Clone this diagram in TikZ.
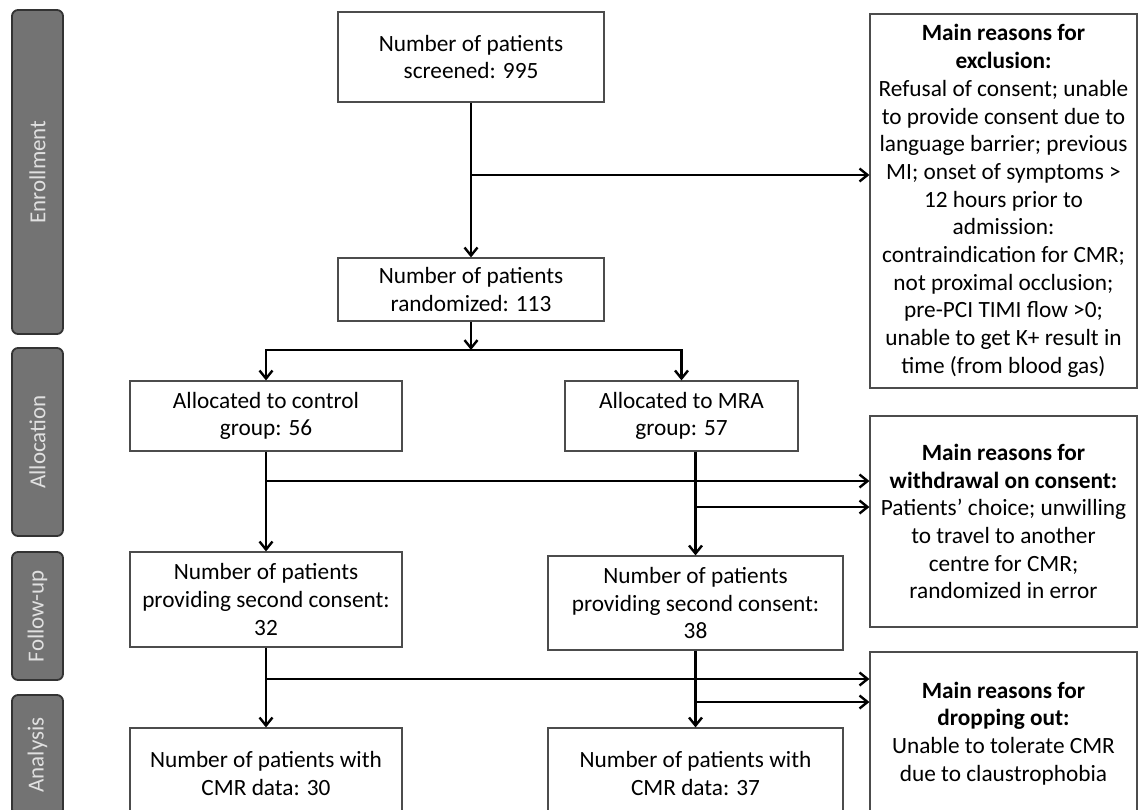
\documentclass[tikz,border=0pt]{standalone}
\usepackage{fontspec}
\setmainfont{Carlito}
\usetikzlibrary{arrows.meta}

\begin{document}
\begin{tikzpicture}[x=1pt, y=-1pt,
		box/.style={draw=black!70, line width=1.2pt, align=center, inner sep=0pt, font=\fontsize{23.3}{27.7}\selectfont},
		phase/.style={draw=black!80, fill=black!55, line width=1.8pt, rounded corners=6pt, rotate=90, inner sep=0pt,
			minimum height=51pt, text=black!12, font=\fontsize{23}{26}\selectfont},
		flow/.style={line width=2.4pt, -{Straight Barb[length=8pt,width=13pt]}}]
		\path[use as bounding box] (0,0) rectangle (1139,809);
		\clip (0,0) rectangle (1139,809);

		% phases
		\node[phase, minimum width=324pt] (enrol) at (37.5,172) {Enrollment};
		\node[phase, minimum width=188pt] (alloc) at (37.5,442) {Allocation};
		\node[phase, minimum width=128pt] (follow) at (37.5,616) {Follow-up};
		\node[phase, minimum width=120pt] (analysis) at (37.5,755) {Analysis};

		% main column
		\node[box, minimum width=266pt, minimum height=90pt] (screened) at (471,57) {Number of patients\\screened: 995};
		\node[box, minimum width=266pt, minimum height=63pt] (randomized) at (471,289.5) {Number of patients\\randomized: 113};
		\node[box, minimum width=272pt, minimum height=70pt] (control) at (266,416) {Allocated to control\\group: 56};
		\node[box, minimum width=233pt, minimum height=70pt] (mra) at (681.5,416) {Allocated to MRA\\group: 57};
		\node[box, minimum width=272pt, minimum height=95pt] (consentC) at (266,599.5) {Number of patients\\providing second consent:\\32};
		\node[box, minimum width=295pt, minimum height=94pt] (consentM) at (695.5,603) {Number of patients\\providing second consent:\\38};
		\node[box, minimum width=272pt, minimum height=91pt] (cmrC) at (266,773.5) {Number of patients with\\CMR data: 30};
		\node[box, minimum width=295pt, minimum height=91pt] (cmrM) at (695.5,773.5) {Number of patients with\\CMR data: 37};

		% reasons
		\node[box, minimum width=267pt, minimum height=374pt] (exclusion) at (1003.5,201) {\textbf{Main reasons for}\\\textbf{exclusion:}\\Refusal of consent; unable\\to provide consent due to\\language barrier; previous\\MI; onset of symptoms >\\12 hours prior to\\admission:\\contraindication for CMR;\\not proximal occlusion;\\pre-PCI TIMI flow >0;\\unable to get K+ result in\\time (from blood gas)};
		\node[box, minimum width=267pt, minimum height=211pt] (withdrawal) at (1003.5,521.5) {\textbf{Main reasons for}\\\textbf{withdrawal on consent:}\\Patients’ choice; unwilling\\to travel to another\\centre for CMR;\\randomized in error};
		\node[box, minimum width=267pt, minimum height=163pt] (dropout) at (1003.5,733.5) {\textbf{Main reasons for}\\\textbf{dropping out:}\\Unable to tolerate CMR\\due to claustrophobia};

		\coordinate (exclOut) at (471,175);
		\coordinate (split) at (471,350);
		\coordinate (ctrlOut) at (266,481);
		\coordinate (mraOut) at (695.5,507);
		\coordinate (ctrlDrop) at (266,679);
		\coordinate (mraDrop) at (695.5,702);

		\draw[flow] (screened) -- (randomized);
		\draw[flow] (exclOut) -- (exclOut -| exclusion.west);
		\draw[flow] (randomized) -- (split);
		\draw[flow] (split) -| (control.north);
		\draw[flow] (split) -| (mra.north);

		\draw[flow] (control) -- (consentC);
		\draw[flow] (ctrlOut) -- (ctrlOut -| withdrawal.west);
		\draw[flow] (consentM.north |- mra.south) -- (consentM.north);
		\draw[flow] (mraOut) -- (mraOut -| withdrawal.west);

		\draw[flow] (consentC) -- (cmrC);
		\draw[flow] (ctrlDrop) -- (ctrlDrop -| dropout.west);
		\draw[flow] (consentM) -- (cmrM);
		\draw[flow] (mraDrop) -- (mraDrop -| dropout.west);
	\end{tikzpicture}
\end{document}
